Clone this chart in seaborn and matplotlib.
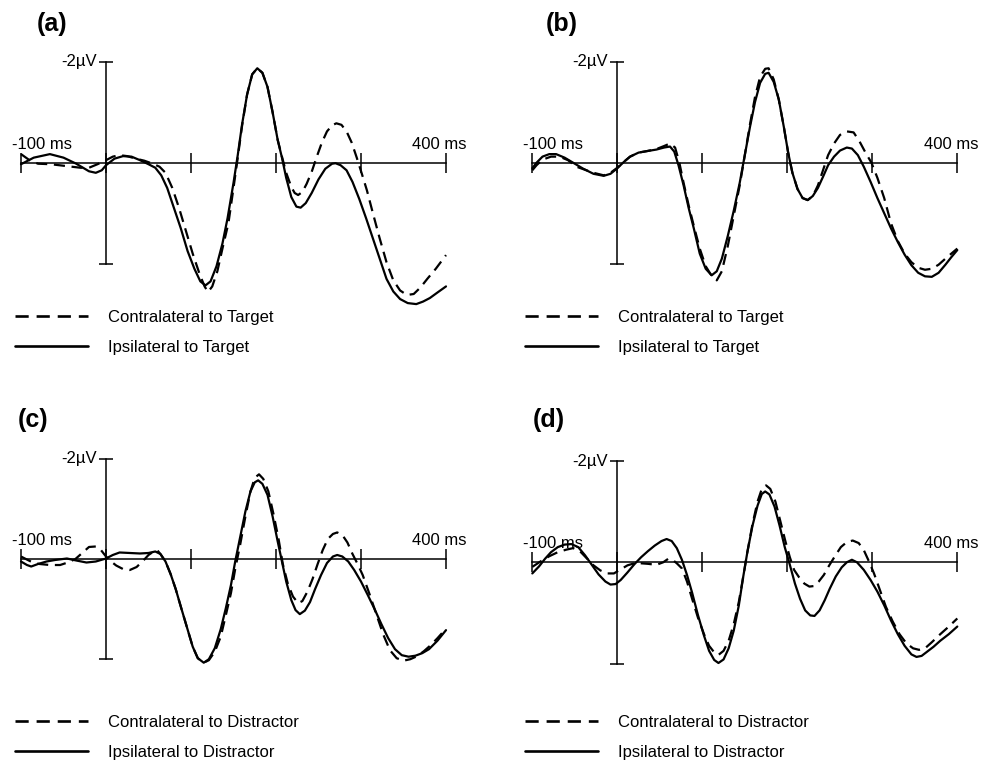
import numpy as np
import pandas as pd
import seaborn as sns
import matplotlib.pyplot as plt

# ERP waveforms: time in ms, amplitude in microvolts (negative plotted up)

# (a) target
a_contra_t = [-100, -90, -80, -65, -50, -30, -20, -10, 0, 8, 16, 25, 35, 45, 55, 63, 70, 78, 86, 94, 102, 110, 116, 120, 125, 131, 137, 144, 150, 155, 160, 166, 172, 178, 184, 190, 196, 202, 207, 212, 218, 222, 226, 231, 236, 242, 248, 254, 260, 266, 271, 277, 283, 289, 295, 301, 307, 314, 322, 330, 338, 346, 354, 362, 370, 378, 388, 400]
a_contra_v = [-0.17, -0.05, 0.02, 0.03, 0.06, 0.1, 0.1, 0.03, -0.05, -0.12, -0.15, -0.13, -0.08, -0.04, 0.02, 0.08, 0.2, 0.5, 0.9, 1.35, 1.8, 2.2, 2.45, 2.56, 2.45, 2.15, 1.7, 1.2, 0.5, -0.1, -0.72, -1.35, -1.75, -1.87, -1.78, -1.5, -1.0, -0.45, -0.12, 0.2, 0.48, 0.6, 0.64, 0.58, 0.42, 0.18, -0.12, -0.4, -0.62, -0.74, -0.78, -0.75, -0.62, -0.4, -0.1, 0.22, 0.55, 1.0, 1.5, 1.97, 2.33, 2.53, 2.62, 2.6, 2.47, 2.3, 2.1, 1.83]
a_ipsi_t = [-100, -85, -66, -50, -35, -20, -12, -5, 0, 10, 20, 30, 40, 50, 58, 65, 72, 80, 88, 96, 104, 111, 117, 123, 130, 137, 143, 150, 155, 160, 166, 172, 178, 184, 190, 196, 202, 207, 212, 218, 224, 229, 235, 242, 250, 258, 266, 270, 276, 283, 290, 298, 306, 314, 322, 330, 338, 346, 355, 365, 373, 381, 390, 400]
a_ipsi_v = [0.03, -0.1, -0.17, -0.1, 0.02, 0.17, 0.2, 0.15, 0.05, -0.08, -0.13, -0.12, -0.05, 0.03, 0.1, 0.25, 0.5, 0.9, 1.3, 1.75, 2.1, 2.35, 2.43, 2.35, 2.05, 1.6, 1.1, 0.4, -0.15, -0.75, -1.35, -1.75, -1.87, -1.78, -1.5, -1.0, -0.45, -0.1, 0.3, 0.68, 0.87, 0.89, 0.8, 0.6, 0.33, 0.12, 0.02, 0.01, 0.05, 0.15, 0.38, 0.72, 1.1, 1.5, 1.9, 2.3, 2.55, 2.7, 2.78, 2.8, 2.75, 2.68, 2.57, 2.45]

# (b) target
b_contra_t = [-100, -95, -88, -78, -68, -58, -48, -38, -28, -16, -8, 0, 8, 15, 25, 35, 46, 55, 62, 68, 73, 78, 84, 90, 97, 104, 111, 117, 123, 130, 137, 144, 150, 156, 162, 168, 174, 178, 184, 190, 196, 201, 206, 212, 218, 224, 230, 236, 242, 248, 255, 262, 270, 278, 285, 292, 299, 306, 314, 322, 330, 338, 346, 354, 362, 370, 378, 386, 393, 400]
b_contra_v = [0.15, 0.05, -0.06, -0.12, -0.12, -0.05, 0.08, 0.14, 0.2, 0.25, 0.2, 0.1, -0.02, -0.12, -0.2, -0.23, -0.27, -0.33, -0.38, -0.3, 0.0, 0.4, 0.85, 1.25, 1.7, 2.05, 2.24, 2.33, 2.15, 1.65, 1.05, 0.45, -0.15, -0.75, -1.3, -1.7, -1.86, -1.87, -1.65, -1.25, -0.7, -0.2, 0.2, 0.52, 0.7, 0.74, 0.66, 0.45, 0.15, -0.15, -0.38, -0.55, -0.62, -0.6, -0.42, -0.2, 0.0, 0.3, 0.7, 1.2, 1.55, 1.8, 1.97, 2.08, 2.12, 2.1, 2.02, 1.9, 1.8, 1.7]
b_ipsi_t = [-100, -95, -88, -80, -72, -62, -52, -40, -28, -16, -8, 0, 8, 15, 25, 35, 46, 55, 62, 67, 72, 78, 84, 90, 97, 104, 111, 117, 123, 130, 137, 144, 150, 156, 162, 168, 174, 178, 184, 190, 196, 201, 206, 212, 218, 224, 230, 236, 242, 248, 255, 262, 270, 276, 283, 290, 298, 306, 314, 322, 330, 338, 346, 354, 362, 370, 378, 386, 393, 400]
b_ipsi_v = [0.11, 0.0, -0.12, -0.17, -0.17, -0.1, 0.0, 0.12, 0.22, 0.26, 0.22, 0.11, -0.02, -0.12, -0.2, -0.23, -0.26, -0.3, -0.32, -0.22, 0.05, 0.45, 0.9, 1.3, 1.8, 2.1, 2.23, 2.15, 1.9, 1.45, 0.95, 0.4, -0.15, -0.7, -1.2, -1.58, -1.76, -1.78, -1.6, -1.25, -0.7, -0.2, 0.2, 0.52, 0.7, 0.74, 0.66, 0.5, 0.28, 0.05, -0.12, -0.24, -0.3, -0.28, -0.15, 0.08, 0.38, 0.7, 1.0, 1.3, 1.57, 1.82, 2.03, 2.18, 2.25, 2.26, 2.18, 2.02, 1.87, 1.73]

# (c) distractor
c_contra_t = [-100, -92, -85, -78, -66, -54, -45, -36, -28, -20, -12, -6, 0, 6, 12, 20, 28, 36, 44, 50, 56, 60, 64, 70, 76, 82, 88, 95, 102, 108, 115, 121, 128, 135, 141, 147, 152, 158, 164, 170, 175, 180, 185, 191, 197, 203, 208, 214, 220, 226, 231, 237, 243, 249, 255, 261, 267, 272, 278, 284, 290, 296, 302, 310, 318, 326, 334, 342, 350, 358, 366, 374, 382, 390, 400]
c_contra_v = [-0.05, 0.02, 0.08, 0.1, 0.12, 0.12, 0.07, 0.0, -0.12, -0.24, -0.25, -0.18, -0.05, 0.05, 0.13, 0.2, 0.22, 0.16, 0.03, -0.08, -0.15, -0.18, -0.1, 0.05, 0.3, 0.6, 0.95, 1.35, 1.75, 1.98, 2.07, 2.02, 1.85, 1.55, 1.12, 0.68, 0.2, -0.3, -0.85, -1.35, -1.62, -1.69, -1.6, -1.35, -0.9, -0.4, 0.1, 0.5, 0.75, 0.88, 0.84, 0.65, 0.4, 0.1, -0.18, -0.4, -0.5, -0.53, -0.48, -0.33, -0.1, 0.1, 0.32, 0.7, 1.1, 1.5, 1.82, 1.98, 2.03, 2.0, 1.94, 1.84, 1.72, 1.58, 1.39]
c_ipsi_t = [-100, -93, -88, -80, -70, -60, -46, -35, -23, -12, 0, 8, 16, 28, 40, 50, 58, 64, 70, 76, 82, 88, 95, 102, 108, 115, 121, 128, 135, 141, 147, 152, 158, 164, 170, 175, 179, 184, 190, 196, 202, 207, 212, 218, 223, 228, 234, 240, 246, 253, 260, 267, 272, 278, 285, 292, 300, 308, 316, 324, 332, 340, 348, 356, 364, 372, 380, 390, 400]
c_ipsi_v = [0.05, 0.12, 0.15, 0.1, 0.05, 0.02, -0.01, 0.03, 0.07, 0.05, -0.01, -0.08, -0.13, -0.12, -0.11, -0.12, -0.15, -0.1, 0.05, 0.3, 0.6, 0.95, 1.35, 1.75, 1.98, 2.07, 2.0, 1.78, 1.4, 0.98, 0.52, 0.05, -0.45, -0.95, -1.35, -1.53, -1.57, -1.5, -1.28, -0.85, -0.35, 0.05, 0.45, 0.82, 1.02, 1.1, 1.03, 0.86, 0.6, 0.32, 0.08, -0.05, -0.08, -0.05, 0.05, 0.22, 0.45, 0.72, 1.0, 1.3, 1.58, 1.8, 1.92, 1.95, 1.93, 1.88, 1.8, 1.63, 1.42]

# (d) distractor
d_contra_t = [-100, -90, -80, -70, -60, -52, -44, -36, -28, -20, -12, -4, 3, 12, 20, 28, 36, 46, 54, 60, 65, 70, 76, 82, 88, 95, 102, 108, 114, 119, 125, 131, 137, 143, 148, 153, 159, 165, 170, 175, 180, 186, 192, 198, 203, 208, 214, 220, 226, 231, 237, 243, 249, 256, 263, 270, 277, 284, 290, 296, 302, 309, 316, 324, 332, 340, 348, 355, 362, 370, 380, 390, 400]
d_contra_v = [0.09, -0.02, -0.12, -0.2, -0.25, -0.28, -0.22, -0.08, 0.06, 0.16, 0.22, 0.22, 0.15, 0.06, 0.02, 0.02, 0.03, 0.05, 0.0, -0.07, -0.05, 0.02, 0.12, 0.38, 0.72, 1.1, 1.42, 1.65, 1.78, 1.83, 1.75, 1.55, 1.22, 0.78, 0.3, -0.2, -0.75, -1.2, -1.45, -1.52, -1.45, -1.2, -0.8, -0.4, -0.1, 0.15, 0.3, 0.42, 0.48, 0.47, 0.38, 0.25, 0.07, -0.12, -0.3, -0.4, -0.43, -0.38, -0.24, -0.02, 0.22, 0.55, 0.88, 1.17, 1.42, 1.6, 1.7, 1.73, 1.7, 1.58, 1.42, 1.27, 1.11]
d_ipsi_t = [-100, -92, -85, -78, -70, -62, -54, -46, -38, -30, -22, -14, -8, -2, 4, 12, 20, 28, 36, 44, 52, 58, 64, 70, 76, 82, 88, 95, 102, 108, 114, 119, 125, 131, 137, 143, 148, 153, 159, 165, 170, 174, 179, 185, 191, 197, 203, 209, 215, 221, 227, 232, 238, 244, 250, 257, 264, 270, 276, 282, 290, 298, 306, 314, 322, 330, 338, 346, 352, 358, 365, 372, 380, 390, 400]
d_ipsi_v = [0.22, 0.08, -0.07, -0.2, -0.3, -0.35, -0.36, -0.3, -0.14, 0.05, 0.24, 0.38, 0.44, 0.43, 0.35, 0.2, 0.04, -0.1, -0.22, -0.33, -0.42, -0.46, -0.42, -0.28, -0.05, 0.25, 0.6, 1.05, 1.45, 1.75, 1.93, 1.99, 1.92, 1.7, 1.35, 0.85, 0.3, -0.2, -0.72, -1.12, -1.35, -1.4, -1.34, -1.1, -0.72, -0.3, 0.05, 0.42, 0.72, 0.95, 1.05, 1.06, 0.95, 0.75, 0.52, 0.28, 0.1, 0.0, -0.05, 0.0, 0.15, 0.35, 0.58, 0.85, 1.15, 1.42, 1.65, 1.82, 1.87, 1.85, 1.76, 1.67, 1.55, 1.42, 1.27]

panel_letters = ['(a)', '(b)', '(c)', '(d)']
contra_labels = ['Contralateral to Target', 'Contralateral to Target',
                 'Contralateral to Distractor', 'Contralateral to Distractor']
ipsi_labels = ['Ipsilateral to Target', 'Ipsilateral to Target',
               'Ipsilateral to Distractor', 'Ipsilateral to Distractor']
x_ticks = [-100, 0, 100, 200, 300, 400]
y_ticks = [-2, 2]

series = [
    (a_contra_t, a_contra_v, a_ipsi_t, a_ipsi_v),
    (b_contra_t, b_contra_v, b_ipsi_t, b_ipsi_v),
    (c_contra_t, c_contra_v, c_ipsi_t, c_ipsi_v),
    (d_contra_t, d_contra_v, d_ipsi_t, d_ipsi_v),
]

# layout in pixels: x of -100 ms, x of 400 ms, y of 0 uV, px per uV, letter pos, legend pos
W, H = 991, 763
layout = [
    dict(x0=21, x1=446, y0=162.7, s=50.5, lab=(37, 24), leg=(15, 332.5)),
    dict(x0=532.3, x1=957.3, y0=162.7, s=50.5, lab=(546, 24), leg=(525, 332.5)),
    dict(x0=21, x1=446, y0=559, s=50.1, lab=(18, 420), leg=(15, 737.5)),
    dict(x0=532.3, x1=957.3, y0=562.3, s=50.6, lab=(533, 420), leg=(525, 737.5)),
]

sns.set_style('ticks')
plt.rcParams['font.family'] = ['Liberation Sans', 'DejaVu Sans']
plt.rcParams['axes.edgecolor'] = 'black'
plt.rcParams['text.color'] = 'black'

fig = plt.figure(figsize=(W / 100, H / 100), dpi=100)

for i in range(4):
    L = layout[i]
    ct, cv, it, iv = series[i]
    df = pd.DataFrame({
        'time': list(ct) + list(it),
        'amp': list(cv) + list(iv),
        'wave': [contra_labels[i]] * len(ct) + [ipsi_labels[i]] * len(it),
    })
    rect = [L['x0'] / W, 1 - (L['y0'] + 2 * L['s']) / H,
            (L['x1'] - L['x0']) / W, 4 * L['s'] / H]
    ax = fig.add_axes(rect)
    sns.lineplot(data=df, x='time', y='amp', style='wave',
                 style_order=[contra_labels[i], ipsi_labels[i]],
                 dashes={contra_labels[i]: (5, 3), ipsi_labels[i]: ''},
                 color='black', linewidth=1.6, estimator=None, sort=False,
                 legend=False, ax=ax, clip_on=False)
    ax.set_xlim(-100, 400)
    ax.set_ylim(2, -2)
    ax.set_xlabel('')
    ax.set_ylabel('')
    ax.patch.set_alpha(0)
    for sp in ['top', 'right']:
        ax.spines[sp].set_visible(False)
    ax.spines['left'].set_position('zero')
    ax.spines['bottom'].set_position('zero')
    ax.spines['left'].set_linewidth(1.1)
    ax.spines['bottom'].set_linewidth(1.1)
    ax.set_xticks(x_ticks)
    ax.set_yticks(y_ticks)
    ax.tick_params(axis='x', direction='inout', length=14, width=1.1,
                   labelbottom=False, bottom=True, top=False, color='black')
    ax.tick_params(axis='y', direction='inout', length=10, width=1.1,
                   labelleft=False, left=True, right=False, color='black')

    ax.annotate('-100 ms', xy=(-100, 0), xytext=(-9, 14), textcoords='offset pixels',
                ha='left', va='baseline', fontsize=12)
    ax.annotate('400 ms', xy=(400, 0), xytext=(21, 14), textcoords='offset pixels',
                ha='right', va='baseline', fontsize=12)
    ax.annotate('-2\u00b5V', xy=(0, -2), xytext=(-9, 0), textcoords='offset pixels',
                ha='right', va='center', fontsize=12)

    lines = ax.get_lines()[:2]
    leg = ax.legend(lines, [contra_labels[i], ipsi_labels[i]], loc='center left',
                    bbox_to_anchor=(L['leg'][0] / W, 1 - L['leg'][1] / H),
                    bbox_transform=fig.transFigure, frameon=False, borderpad=0,
                    borderaxespad=0, handlelength=4.4, handletextpad=1.2,
                    labelspacing=0.92, fontsize=12)
    for hl in leg.get_lines():
        hl.set_linewidth(1.9)

    fig.text(L['lab'][0] / W, 1 - L['lab'][1] / H, panel_letters[i],
             fontsize=18, fontweight='bold', ha='left', va='center')

fig.savefig('out.png', dpi=100, facecolor='white')
